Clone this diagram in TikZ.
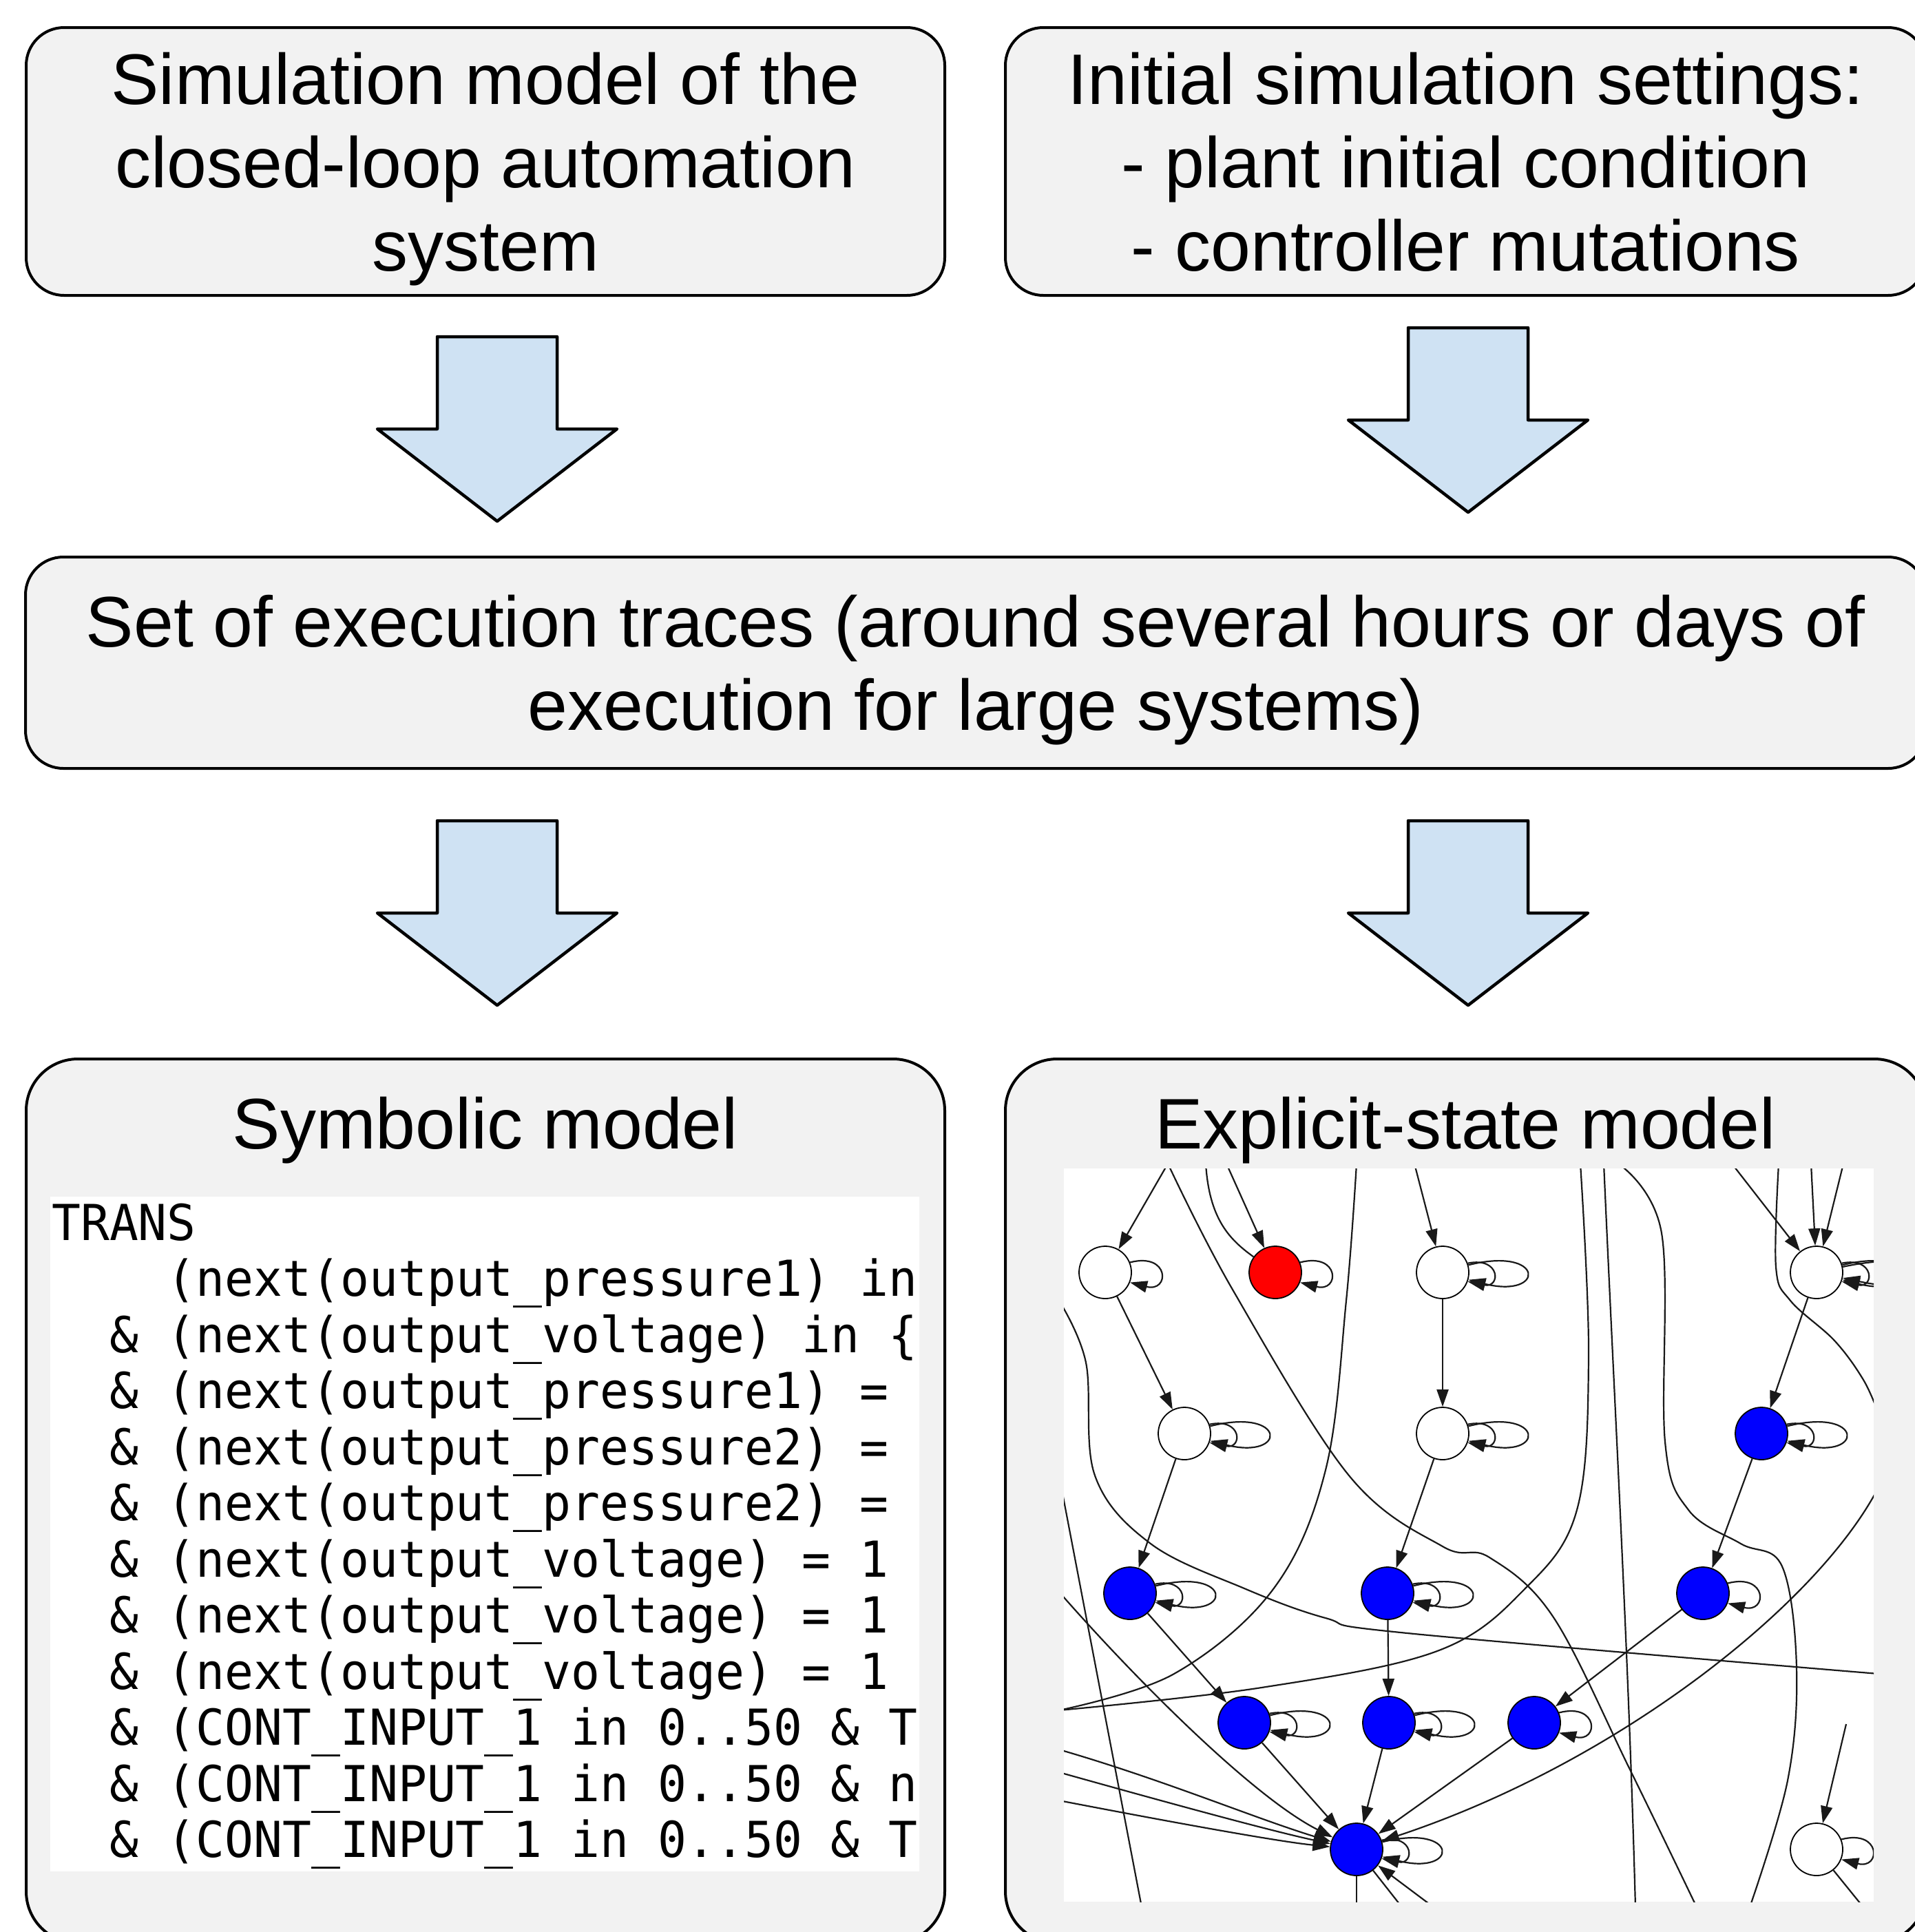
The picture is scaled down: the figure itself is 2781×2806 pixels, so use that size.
\documentclass[tikz,border=0pt]{standalone}
\usepackage{fontspec}
\setmainfont{Liberation Sans}
\newfontfamily\codefont[FakeStretch=0.967]{DejaVu Sans Mono}
\usetikzlibrary{arrows.meta}

\definecolor{boxgray}{HTML}{F2F2F2}
\definecolor{arrowblue}{HTML}{CFE2F3}
\definecolor{stateblue}{HTML}{0000FF}
\definecolor{statered}{HTML}{FF0000}

% struts that fix the first baseline and the last depth of the box texts
\newcommand\topstrut{\rule{0pt}{111pt}}
\newcommand\botstrut{\rule[-36pt]{0pt}{36pt}}

\tikzset{
  panel/.style={draw=black, line width=4pt, fill=boxgray, rounded corners=55pt,
    align=center, inner sep=0pt, font=\fontsize{104}{121}\selectfont},
  bigpanel/.style={panel, rounded corners=75pt},
  paneltitle/.style={anchor=base, inner sep=0pt, font=\fontsize{104}{121}\selectfont},
  codeline/.style={anchor=base west, inner sep=0pt, font=\codefont\fontsize{72}{81.5}\selectfont},
  blockflow/.style={draw=black, fill=arrowblue, line width=4.5pt, line join=round},
  downarrow/.pic={\draw[blockflow] (-87,0) -- (87,0) -- (87,134) -- (174,134)
    -- (0,268) -- (-174,134) -- (-87,134) -- cycle;},
  gstate/.style={circle, draw=black, line width=1.8pt, minimum size=76pt, inner sep=0pt},
  stw/.style={gstate, fill=white},
  stb/.style={gstate, fill=stateblue},
  str/.style={gstate, fill=statered},
  gedge/.style={draw=black!90, line width=2.2pt},
  gtip/.style={-{Triangle[length=25pt,width=17pt]}},
}

% self loops of the state graph
\newcommand\gvloopone[1]{\draw[gedge,gtip] (#1.22) .. controls +(58,-15) and +(58,15) .. (#1.-22);}
\newcommand\gvlooptwo[1]{%
  \draw[gedge,gtip] (#1.20) .. controls +(48,-10) and +(48,10) .. (#1.-20);
  \draw[gedge,gtip] (#1.16) .. controls +(112,-28) and +(112,28) .. (#1.-16);}
\newcommand\gvloopthree[1]{%
  \gvlooptwo{#1}
  \draw[gedge,gtip] (#1.12) .. controls +(160,-34) and +(160,34) .. (#1.-12);}

\begin{document}
\begin{tikzpicture}[x=1pt,y=-1pt]
\useasboundingbox (0,0) rectangle (2781,2806);
\clip (0,0) rectangle (2781,2806);

% ---------- top row ----------
\node[panel, minimum width=1334pt, minimum height=379pt] (sim) at (705,234.5)
  {\topstrut Simulation model of the\\closed-loop automation\\system\botstrut};
\node[panel, minimum width=1337pt, minimum height=379pt] (init) at (2128.5,234.5)
  {\topstrut Initial simulation settings:\\- plant initial condition\\- controller mutations\botstrut};

\pic (a1) at (722,489) {downarrow};
\pic (a2) at (2132,476) {downarrow};

% ---------- traces ----------
\node[panel, minimum width=2760pt, minimum height=307pt] (traces) at (1417,962.5)
  {\topstrut Set of execution traces (around several hours or days of\\execution for large systems)\botstrut};

\pic (a3) at (722,1192) {downarrow};
\pic (a4) at (2132,1192) {downarrow};

% ---------- bottom row ----------
\node[bigpanel, minimum width=1334pt, minimum height=1284pt] (symb) at (705,2180) {};
\node[bigpanel, minimum width=1337pt, minimum height=1284pt] (expl) at (2128.5,2180) {};
\node[paneltitle] (symbtitle) at (705,1668) {Symbolic model};
\node[paneltitle] (expltitle) at (2128,1668) {Explicit-state model};

% symbolic model listing
\node[fill=white, inner sep=0pt, minimum width=1262pt, minimum height=980pt] (code) at (704,2228) {};
\node[codeline] (c1)  at (75,1801)   {TRANS};
\node[codeline] (c2)  at (75,1882.5) {\ \ \ \ (next(output\_pressure1) in};
\node[codeline] (c3)  at (75,1964)   {\ \ \& (next(output\_voltage) in \{};
\node[codeline] (c4)  at (75,2045.5) {\ \ \& (next(output\_pressure1) =};
\node[codeline] (c5)  at (75,2127)   {\ \ \& (next(output\_pressure2) =};
\node[codeline] (c6)  at (75,2208.5) {\ \ \& (next(output\_pressure2) =};
\node[codeline] (c7)  at (75,2290)   {\ \ \& (next(output\_voltage) = 1};
\node[codeline] (c8)  at (75,2371.5) {\ \ \& (next(output\_voltage) = 1};
\node[codeline] (c9)  at (75,2453)   {\ \ \& (next(output\_voltage) = 1};
\node[codeline] (c10) at (75,2534.5) {\ \ \& (CONT\_INPUT\_1 in 0..50 \& T};
\node[codeline] (c11) at (75,2616)   {\ \ \& (CONT\_INPUT\_1 in 0..50 \& n};
\node[codeline] (c12) at (75,2697.5) {\ \ \& (CONT\_INPUT\_1 in 0..50 \& T};

% explicit-state graph
\node[fill=white, inner sep=0pt, minimum width=1176pt, minimum height=1065pt] (graph) at (2133,2229.5) {};
\begin{scope}
\clip (1545,1697) rectangle (2721,2762);

\node[stw] (A) at (1605,1848) {};
\node[str] (B) at (1852,1848) {};
\node[stw] (C) at (2095,1848) {};
\node[stw] (D) at (2638,1848) {};
\node[stw] (E) at (1720,2082) {};
\node[stw] (F) at (2095,2082) {};
\node[stb] (G) at (2558,2082) {};
\node[stb] (H) at (1641,2314) {};
\node[stb] (I) at (2015,2314) {};
\node[stb] (J) at (2473,2314) {};
\node[stb] (K) at (1807,2502) {};
\node[stb] (L) at (2017,2502) {};
\node[stb] (M) at (2228,2502) {};
\node[stb] (N) at (1970,2686) {};
\node[stw] (O) at (2638,2686) {};

% loose ends of edges leaving the visible part
\coordinate (t1) at (1696,1690);  \coordinate (t2) at (1751,1690);
\coordinate (t3) at (1781,1690);  \coordinate (t4) at (1970,1690);
\coordinate (t5) at (2054,1690);  \coordinate (t6) at (2295,1690);
\coordinate (t7) at (2329,1690);  \coordinate (t8) at (2350,1690);
\coordinate (t9) at (2515,1690);  \coordinate (t10) at (2583,1690);
\coordinate (t11) at (2630,1690); \coordinate (t12) at (2677,1690);
\coordinate (l1) at (1538,1889);  \coordinate (l2) at (1538,2143);
\coordinate (l3) at (1538,2312);  \coordinate (l4) at (1538,2484);
\coordinate (l5) at (1538,2541);  \coordinate (l6) at (1538,2574);
\coordinate (l7) at (1538,2615);
\coordinate (r1) at (2728,2053);  \coordinate (r2) at (2728,2160);
\coordinate (r3) at (2728,2431);
\coordinate (b1) at (1658,2770);  \coordinate (b2) at (1970,2770);
\coordinate (b3) at (2036,2770);  \coordinate (b4) at (2082,2770);
\coordinate (b5) at (2375,2770);  \coordinate (b6) at (2464,2770);
\coordinate (b7) at (2541,2770);  \coordinate (b8) at (2706,2770);
\coordinate (o1) at (2681,2504);

% edges from above
\draw[gedge,gtip] (t1) -- (A);
\draw[gedge] plot[smooth, tension=0.6] coordinates {(t1) (1790,1873) (1959,2143) (2095,2246) (2163,2262) (2256,2349) (2367,2570) (b6)};
\draw[gedge] (t2) .. controls (1756,1770) and (1785,1800) .. (B);
\draw[gedge,gtip] (t3) -- (B);
\draw[gedge] plot[smooth, tension=0.6] coordinates {(t4) (1955,1889) (1925,2135) (1849,2308) (1705,2431) (l4)};
\draw[gedge,gtip] (t5) -- (C);
\draw[gedge] plot[smooth, tension=0.6] coordinates {(t6) (2307,1971) (2290,2193) (2214,2308) (2087,2398) (1832,2451) (l4)};
\draw[gedge] (t7) .. controls (2345,2050) and (2365,2400) .. (b5);
\draw[gedge] plot[smooth, tension=0.6] coordinates {(t8) (2413,1791) (2418,2094) (2452,2193) (2528,2242) (2588,2275) (2609,2422) (2596,2586) (b7)};
\draw[gedge,gtip] (t9) -- (D);
\draw[gedge] plot[smooth, tension=0.6] coordinates {(t10) (2579,1840) (2600,1889) (2664,1947) (2706,2004) (r1)};
\draw[gedge,gtip] (t11) -- (D);
\draw[gedge,gtip] (t12) -- (D);

% edges between states
\draw[gedge,gtip] (A) -- (E);
\draw[gedge,gtip] (C) -- (F);
\draw[gedge,gtip] (D) -- (G);
\draw[gedge,gtip] (E) -- (H);
\draw[gedge,gtip] (F) -- (I);
\draw[gedge,gtip] (G) -- (J);
\draw[gedge,gtip] (H) -- (K);
\draw[gedge,gtip] (I) -- (L);
\draw[gedge,gtip] (J) -- (M);
\draw[gedge,gtip] (K) -- (N);
\draw[gedge,gtip] (L) -- (N);
\draw[gedge,gtip] (M) -- (N);

% edges from the sides and below
\draw[gedge] plot[smooth, tension=0.6] coordinates {(l1) (1577,1979) (1590,2143) (1671,2242) (1807,2307) (1925,2350) (2044,2372) (r3)};
\draw[gedge] (l2) -- (b1);
\draw[gedge,gtip] (l3) .. controls (1650,2440) and (1820,2610) .. (N);
\draw[gedge,gtip] (l5) .. controls (1690,2585) and (1820,2640) .. (N);
\draw[gedge,gtip] (l6) .. controls (1720,2625) and (1850,2660) .. (N);
\draw[gedge,gtip] (l7) .. controls (1720,2650) and (1860,2675) .. (N);
\draw[gedge,gtip] (r2) .. controls (2640,2330) and (2350,2560) .. (N);
\draw[gedge] (N) -- (b2);
\draw[gedge] (N) -- (b3);
\draw[gedge,gtip] (b4) -- (N);
\draw[gedge,gtip] (o1) -- (O);
\draw[gedge] (O) -- (b8);

% self loops
\gvloopone{A} \gvloopone{B} \gvloopone{J} \gvloopone{M} \gvloopone{O}
\gvlooptwo{C} \gvlooptwo{E} \gvlooptwo{F} \gvlooptwo{G} \gvlooptwo{H}
\gvlooptwo{I} \gvlooptwo{K} \gvlooptwo{L} \gvlooptwo{N}
\gvloopthree{D}
\end{scope}
\end{tikzpicture}
\end{document}
